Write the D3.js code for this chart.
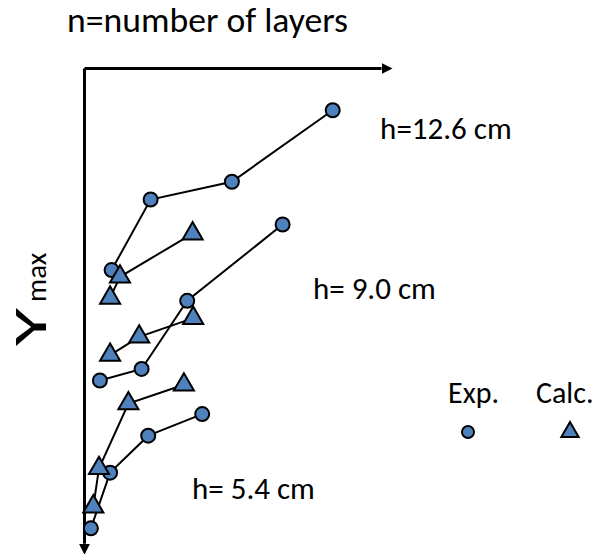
<!DOCTYPE html>
<html>
<head>
<meta charset="utf-8">
<script src="https://cdn.jsdelivr.net/npm/d3@7"></script>
<style>
  body { margin: 0; background: #fff; }
  svg { display: block; }
  text { font-family: Carlito, Calibri, "Open Sans", sans-serif; fill: #000; }
</style>
</head>
<body>
<svg id="chart" width="595" height="554"></svg>
<script>
// values, in arbitrary units (no ticks on the original)
// n = number of layers along x, Ymax along y (grows downward)
var seriesNames = ["h=12.6 cm", "h= 9.0 cm", "h= 5.4 cm"];

var exp126 = [[0.92, 4.21], [2.22, 2.74], [4.93, 2.37], [8.29, 0.88]];
var calc126 = [[0.87, 4.79], [1.20, 4.35], [3.62, 3.45]];

var exp90 = [[0.53, 6.51], [1.92, 6.27], [3.44, 4.85], [6.62, 3.26]];
var calc90 = [[0.87, 5.98], [1.84, 5.60], [3.64, 5.21]];

var exp54 = [[0.23, 9.59], [0.87, 8.43], [2.14, 7.66], [3.94, 7.21]];
var calc54 = [[0.31, 9.14], [0.50, 8.34], [1.48, 6.99], [3.33, 6.60]];

// where each "h=" label sits, in the same units
var labelAt = [[9.87, 1.48], [7.63, 4.81], [3.60, 8.98]];

var legendNames = ["Exp.", "Calc."];
var xTitle = "n=number of layers";
var axisEnd = [9.9, 9.9];

var svg = d3.select("#chart");
var blue = "#4f81bd";

var x = d3.scaleLinear().domain([0, 10]).range([84, 384]),
    y = d3.scaleLinear().domain([0, 10]).range([68, 548]);

// arrow head
svg.append("defs").append("marker")
    .attr("id", "arrow")
    .attr("viewBox", "0 0 10 10")
    .attr("refX", 0).attr("refY", 5)
    .attr("markerUnits", "userSpaceOnUse")
    .attr("markerWidth", 11).attr("markerHeight", 11)
    .attr("orient", "auto")
    .append("path")
    .attr("d", "M0,0L10,5L0,10z")
    .attr("fill", "#000");

// axes: only the lines with arrows, no ticks
var xa = d3.scaleLinear().domain([0, axisEnd[0]]).range([x(0), x(axisEnd[0])]),
    ya = d3.scaleLinear().domain([0, axisEnd[1]]).range([y(0), y(axisEnd[1])]);

svg.append("g")
    .attr("class", "axis axis--x")
    .attr("transform", "translate(0," + y(0) + ")")
    .call(d3.axisTop(xa).tickValues([]).tickSizeOuter(0));

svg.append("g")
    .attr("class", "axis axis--y")
    .attr("transform", "translate(" + x(0) + ",0)")
    .call(d3.axisLeft(ya).tickValues([]).tickSizeOuter(0));

svg.selectAll(".axis .domain")
    .attr("stroke", "#000")
    .attr("stroke-width", 3)
    .attr("marker-end", "url(#arrow)");

// connecting lines
var line = d3.line()
    .x(function(d) { return x(d[0]); })
    .y(function(d) { return y(d[1]); });

var allSeries = [
    { pts: exp126, kind: "circle" },
    { pts: calc126, kind: "tri" },
    { pts: exp90, kind: "circle" },
    { pts: calc90, kind: "tri" },
    { pts: exp54, kind: "circle" },
    { pts: calc54, kind: "tri" }
];

svg.append("g").selectAll("path")
    .data(allSeries)
    .enter().append("path")
    .attr("d", function(d) { return line(d.pts); })
    .attr("fill", "none")
    .attr("stroke", "#000")
    .attr("stroke-width", 2);

var tri = d3.symbol().type(d3.symbolTriangle).size(175);

function drawMarkers(g, pts, kind) {
    if (kind === "circle") {
        g.selectAll("circle")
            .data(pts)
            .enter().append("circle")
            .attr("cx", function(d) { return x(d[0]); })
            .attr("cy", function(d) { return y(d[1]); })
            .attr("r", 7)
            .attr("fill", blue)
            .attr("stroke", "#000")
            .attr("stroke-width", 2);
    } else {
        g.selectAll("path")
            .data(pts)
            .enter().append("path")
            .attr("d", tri)
            .attr("transform", function(d) { return "translate(" + x(d[0]) + "," + y(d[1]) + ")"; })
            .attr("fill", blue)
            .attr("stroke", "#000")
            .attr("stroke-width", 2)
            .attr("stroke-linejoin", "miter");
    }
}

allSeries.forEach(function(s) {
    drawMarkers(svg.append("g"), s.pts, s.kind);
});

// h= labels
svg.append("g").selectAll("text")
    .data(seriesNames)
    .enter().append("text")
    .attr("x", function(d, i) { return x(labelAt[i][0]); })
    .attr("y", function(d, i) { return y(labelAt[i][1]); })
    .attr("font-size", 31)
    .text(function(d) { return d; });

// x title
svg.append("text")
    .attr("x", 67)
    .attr("y", 32)
    .attr("font-size", 35)
    .attr("textLength", 281)
    .attr("lengthAdjust", "spacingAndGlyphs")
    .text(xTitle);

// y title, rotated: big "Y" then "max"
svg.append("text")
    .attr("transform", "translate(46,346) rotate(-90)")
    .attr("font-size", 48)
    .attr("textLength", 38)
    .attr("lengthAdjust", "spacingAndGlyphs")
    .text("Y");
svg.append("text")
    .attr("transform", "translate(46,302) rotate(-90)")
    .attr("font-size", 29)
    .text("max");

// legend
var legend = svg.append("g");
var legX = [468, 570],
    legTextX = [448, 536];
legend.selectAll("text")
    .data(legendNames)
    .enter().append("text")
    .attr("x", function(d, i) { return legTextX[i]; })
    .attr("y", 403)
    .attr("font-size", 30)
    .text(function(d) { return d; });

legend.append("circle")
    .attr("cx", legX[0]).attr("cy", 432).attr("r", 6)
    .attr("fill", blue).attr("stroke", "#000").attr("stroke-width", 2);

legend.append("path")
    .attr("d", d3.symbol().type(d3.symbolTriangle).size(130))
    .attr("transform", "translate(" + legX[1] + ",432)")
    .attr("fill", blue).attr("stroke", "#000").attr("stroke-width", 2);
</script>
</body>
</html>
